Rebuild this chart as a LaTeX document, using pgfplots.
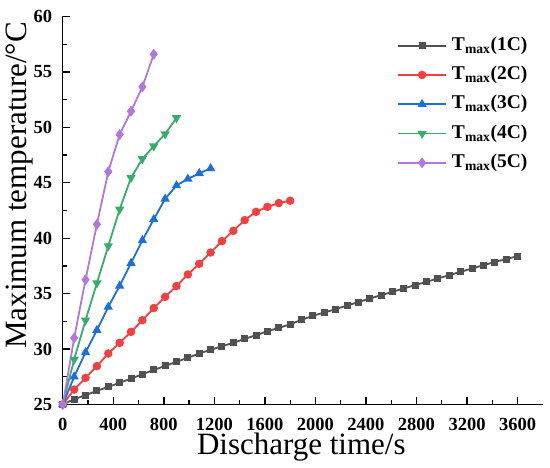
\documentclass[border=0pt]{standalone}
\usepackage{pgfplots}
\pgfplotsset{compat=1.18}
\usepackage{fontspec}
\setmainfont{Liberation Serif}
\definecolor{c1}{HTML}{515151}
\definecolor{c2}{HTML}{F14040}
\definecolor{c3}{HTML}{1A6FDF}
\definecolor{c4}{HTML}{37AD6B}
\definecolor{c5}{HTML}{B177DE}
\begin{document}
\begin{tikzpicture}
\useasboundingbox (-62.8pt,-62.7pt) rectangle (487.2pt,404.5pt);
\begin{axis}[
  at={(0pt,0pt)}, anchor=south west,
  scale only axis, width=480pt, height=388pt,
  xmin=0, xmax=3800, ymin=25, ymax=60,
  axis lines=left,
  axis line style={-, line width=1.3pt, black},
  xtick={0,400,...,3600}, ytick={25,30,...,60},
  minor x tick num=1, minor y tick num=1,
  tick align=inside,
  major tick length=7pt, minor tick length=4pt,
  every tick/.style={black, line width=1.3pt},
  /pgf/number format/assume math mode=true,
  /pgf/number format/set thousands separator={},
  ticklabel style={font=\fontsize{18.5}{18.5}\selectfont\bfseries, inner sep=0pt},
  xticklabel style={anchor=north, yshift=-13.4pt},
  yticklabel style={anchor=east, xshift=-10.5pt},
  xlabel={Discharge time/s},
  ylabel={Maximum temperature/°C},
  label style={font=\fontsize{31}{31}\selectfont, inner sep=0pt},
  xlabel style={at={(axis description cs:0.497,-0.1285)}, anchor=base},
  ylabel style={at={(axis description cs:-0.0746,0.565)}, anchor=base},
  clip=false,
  legend cell align=left,
  legend image code/.code={\draw[mark repeat=2,mark phase=2,#1] plot coordinates {(0pt,0pt) (24pt,0pt) (48pt,0pt)};},
  legend style={draw=none, fill=none, at={(axis description cs:0.69,0.955)}, anchor=north west,
    font=\fontsize{19.5}{19.5}\selectfont\bfseries, row sep=10.3pt, column sep=5pt,
    nodes={inner sep=0pt, text height=14pt, text depth=5pt}},
]
\addplot[c1, line width=1.8pt, mark=square*, mark size=2.6pt, mark options={solid}] coordinates {
(0,25) (90,25.48) (180,25.84) (270,26.23) (360,26.59) (450,26.95) (540,27.34) (630,27.73) (720,28.12) (810,28.48)
(900,28.85) (990,29.21) (1080,29.6) (1170,29.93) (1260,30.26) (1350,30.56) (1440,30.92) (1530,31.25) (1620,31.61) (1710,31.91)
(1800,32.23) (1890,32.64) (1980,33.0) (2070,33.3) (2160,33.6) (2250,33.93) (2340,34.23) (2430,34.56) (2520,34.86) (2610,35.16)
(2700,35.47) (2790,35.77) (2880,36.07) (2970,36.37) (3060,36.67) (3150,36.97) (3240,37.27) (3330,37.57) (3420,37.85) (3510,38.12) (3600,38.38)};
\addlegendentry{T\textsubscript{max}(1C)}
\addplot[c2, line width=1.8pt, mark=*, mark size=3.3pt] coordinates {
(0,25) (90,26.35) (180,27.4) (270,28.46) (360,29.6) (450,30.56) (540,31.55) (630,32.6) (720,33.7) (810,34.71)
(900,35.68) (990,36.73) (1080,37.69) (1170,38.71) (1260,39.74) (1350,40.67) (1440,41.63) (1530,42.38) (1620,42.83) (1710,43.17) (1800,43.38)};
\addlegendentry{T\textsubscript{max}(2C)}
\addplot[c3, line width=1.8pt, mark=triangle*, mark size=3.6pt] coordinates {
(0,25) (90,27.5) (180,29.7) (270,31.7) (360,33.8) (450,35.7) (540,37.75) (630,39.8) (720,41.7) (810,43.55)
(900,44.75) (990,45.35) (1080,45.85) (1170,46.3)};
\addlegendentry{T\textsubscript{max}(3C)}
\addplot[c4, line width=1.8pt, mark=triangle*, mark size=3.6pt, mark options={rotate=180}] coordinates {
(0,25) (90,29.06) (180,32.6) (270,35.95) (360,39.3) (450,42.6) (540,45.45) (630,47.15) (720,48.3) (810,49.4) (900,50.85)};
\addlegendentry{T\textsubscript{max}(4C)}
\addplot[c5, line width=1.8pt, mark=diamond*, mark size=4pt] coordinates {
(0,25) (90,31.0) (180,36.25) (270,41.25) (360,46.0) (450,49.35) (540,51.45) (630,53.65) (720,56.6)};
\addlegendentry{T\textsubscript{max}(5C)}
\end{axis}
\end{tikzpicture}
\end{document}
